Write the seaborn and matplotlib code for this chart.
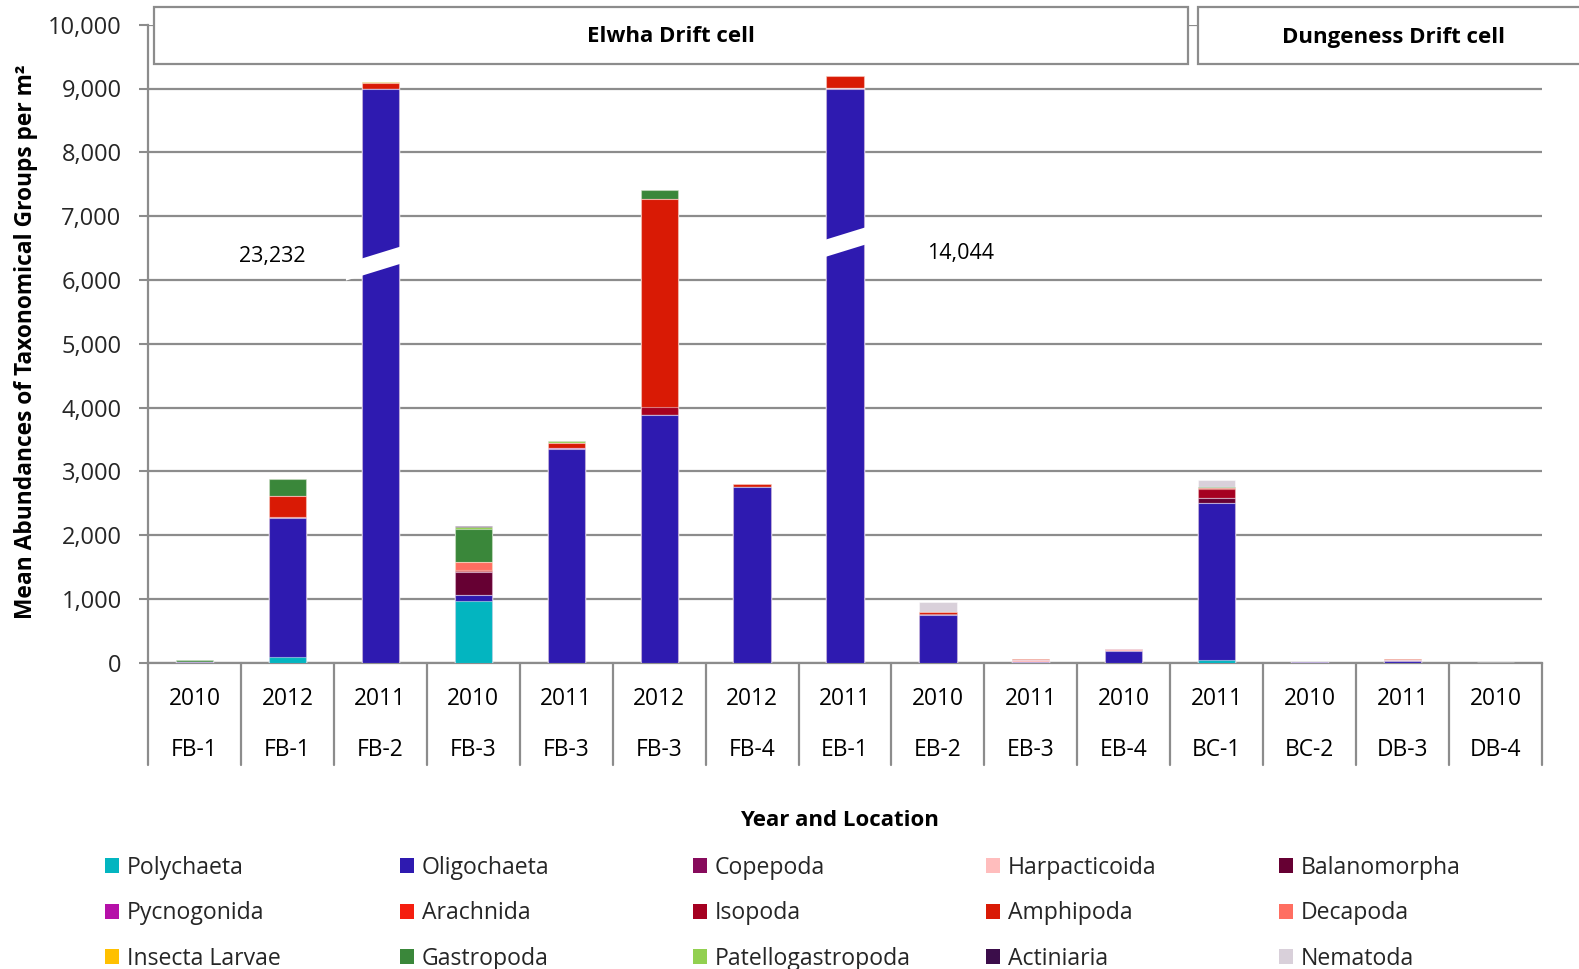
import numpy as np
import pandas as pd
import matplotlib
matplotlib.use("Agg")
import matplotlib.pyplot as plt
import matplotlib.transforms as mtransforms
from matplotlib.patches import Patch, Rectangle, Polygon
import seaborn as sns

# ---------------------------------------------------------------- data
years = ["2010", "2012", "2011", "2010", "2011", "2012", "2012", "2011",
         "2010", "2011", "2010", "2011", "2010", "2011", "2010"]
locations = ["FB-1", "FB-1", "FB-2", "FB-3", "FB-3", "FB-3", "FB-4", "EB-1",
             "EB-2", "EB-3", "EB-4", "BC-1", "BC-2", "DB-3", "DB-4"]

taxa = ["Polychaeta", "Oligochaeta", "Copepoda", "Harpacticoida", "Balanomorpha",
        "Pycnogonida", "Arachnida", "Isopoda", "Amphipoda", "Decapoda",
        "Insecta Larvae", "Gastropoda", "Patellogastropoda", "Actiniaria", "Nematoda"]

polychaeta        = [0, 90, 0, 970, 0, 0, 0, 0, 0, 0, 0, 40, 0, 0, 0]
oligochaeta       = [10, 2180, 23137, 85, 3345, 3887, 2749, 13844, 752, 5, 183, 2468, 8, 22, 0]
copepoda          = [0, 0, 0, 0, 0, 0, 0, 0, 0, 0, 0, 0, 0, 0, 0]
harpacticoida     = [0, 0, 0, 0, 0, 0, 0, 10, 0, 30, 27, 0, 0, 20, 0]
balanomorpha      = [0, 0, 0, 365, 0, 0, 0, 0, 0, 0, 0, 69, 0, 0, 0]
pycnogonida       = [0, 0, 0, 0, 15, 0, 0, 0, 0, 0, 0, 0, 0, 0, 0]
arachnida         = [0, 20, 0, 0, 0, 0, 0, 0, 0, 0, 0, 0, 0, 0, 0]
isopoda           = [0, 0, 0, 15, 0, 125, 0, 0, 8, 0, 0, 141, 0, 0, 0]
amphipoda         = [0, 330, 80, 15, 80, 3255, 52, 190, 35, 20, 0, 25, 0, 18, 0]
decapoda          = [0, 0, 0, 125, 0, 0, 0, 0, 0, 0, 0, 0, 0, 0, 0]
insecta_larvae    = [0, 0, 15, 0, 8, 0, 0, 0, 0, 0, 0, 0, 0, 0, 0]
gastropoda        = [30, 265, 0, 520, 0, 141, 0, 0, 0, 0, 0, 11, 0, 0, 0]
patellogastropoda = [0, 0, 0, 26, 20, 0, 0, 0, 0, 0, 0, 0, 0, 0, 0]
actiniaria        = [0, 0, 0, 20, 0, 0, 0, 0, 0, 0, 0, 0, 0, 0, 0]
nematoda          = [0, 0, 0, 0, 0, 0, 0, 0, 156, 0, 0, 110, 0, 0, 0]

series = [polychaeta, oligochaeta, copepoda, harpacticoida, balanomorpha,
          pycnogonida, arachnida, isopoda, amphipoda, decapoda,
          insecta_larvae, gastropoda, patellogastropoda, actiniaria, nematoda]

colors = ["#03B5C0", "#2E1AB0", "#870B5C", "#FFBDBD", "#660033",
          "#B510A8", "#F51E0F", "#A50021", "#D91A05", "#FF6E61",
          "#FFC000", "#3A873A", "#92D050", "#3B0D4A", "#D9D0DA"]

drift_cells = ["Elwha Drift cell", "Dungeness Drift cell"]

# ---------------------------------------------------------------- layout
W, H = 1579, 969
Y_MAX = 10000
SHOWN_OLIGO = 9000            # height drawn for the dominant segment of off-scale bars
BREAK_Y = {2: 6290, 7: 6590}  # where the axis-break cut crosses off-scale bars
TOTAL_LABEL_POS = {2: (-1.165, 6360), 7: (1.24, 6420)}
BAR_W = 0.4
GRID = "#8C8C8C"
FS_TICK = 17
FS_CAT = 16.4
FS_BOLD = 16

sns.set_theme(style="white")
plt.rcParams["font.family"] = ["Open Sans", "DejaVu Sans"]

fig = plt.figure(figsize=(W / 100, H / 100), dpi=100)
ax = fig.add_axes([148 / W, 1 - 662.7 / H, (1542 - 148) / W, (662.7 - 24.7) / H])

n = len(years)
keys = [f"{y} {l}" for y, l in zip(years, locations)]
values = np.array(series, dtype=float)           # taxa x sites
totals = values.sum(axis=0)

# off-scale bars: keep the real total but draw the dominant segment capped
shown = values.copy()
off_scale = [i for i in range(n) if totals[i] > Y_MAX]
for i in off_scale:
    shown[1, i] = SHOWN_OLIGO
cum = np.cumsum(shown, axis=0)

# stacked bars: draw cumulative heights from top layer down
for k in range(len(taxa) - 1, -1, -1):
    df = pd.DataFrame({"site": keys, "value": cum[k]})
    sns.barplot(data=df, x="site", y="value", order=keys, color=colors[k],
                saturation=1, width=BAR_W, errorbar=None, ax=ax,
                edgecolor=(1, 1, 1, 0.45), linewidth=0.8, zorder=3)

# axis-break cut across off-scale bars, with the true totals
slope = 450.0
half = 135.0
for i in off_scale:
    yb = BREAK_Y[i]
    x0, x1 = i - 0.37, i + 0.27
    poly = Polygon([(x0, yb - half + slope * (x0 - i)), (x1, yb - half + slope * (x1 - i)),
                    (x1, yb + half + slope * (x1 - i)), (x0, yb + half + slope * (x0 - i))],
                   closed=True, facecolor="white", edgecolor="none", zorder=4)
    ax.add_patch(poly)
    dx, ty = TOTAL_LABEL_POS[i]
    ax.text(i + dx, ty, f"{int(round(totals[i])):,}", ha="center", va="center",
            fontsize=15.5, color="black", zorder=5)

ax.set_xlim(-0.5, n - 0.5)
ax.set_ylim(0, Y_MAX)
ax.set_yticks(np.arange(0, Y_MAX + 1, 1000))
ax.set_yticklabels([f"{v:,}" for v in range(0, Y_MAX + 1, 1000)], fontsize=FS_TICK)
ax.set_xticks(range(n))
ax.set_xticklabels([""] * n)
ax.tick_params(axis="x", length=0)
ax.tick_params(axis="y", length=6.5, width=1.5, color=GRID, pad=12.5, left=True)
ax.yaxis.grid(True, color=GRID, linewidth=1.6)
ax.set_axisbelow(True)
for s in ["top", "right"]:
    ax.spines[s].set_visible(False)
for s in ["left", "bottom"]:
    ax.spines[s].set_color(GRID)
    ax.spines[s].set_linewidth(1.6)
ax.set_xlabel("")
ax.set_ylabel("")

# two-row category table under the axis
trans = mtransforms.blended_transform_factory(ax.transData, ax.transAxes)
table_bottom = -(765 - 662.7) / 638
for b in range(n + 1):
    ax.plot([b - 0.5, b - 0.5], [0, table_bottom], transform=trans, color=GRID,
            lw=1.6, clip_on=False, zorder=2)
for i in range(n):
    ax.text(i, -(699 - 662.7) / 638, years[i], transform=trans, ha="center",
            va="center", fontsize=FS_CAT, color="black")
    ax.text(i, -(750 - 662.7) / 638, locations[i], transform=trans, ha="center",
            va="center", fontsize=FS_CAT, color="black")

fig.text(839 / W, 1 - 821 / H, "Year and Location", ha="center", va="center",
         fontsize=FS_BOLD, fontweight="bold", color="black")
fig.text(26 / W, 1 - 342 / H, "Mean Abundances of Taxonomical Groups per m²",
         ha="center", va="center", rotation=90, fontsize=16.4,
         fontweight="bold", color="black")

# drift-cell header boxes
boxes = [(154, 1188), (1198, 1600)]
for (bx0, bx1), name in zip(boxes, drift_cells):
    fig.patches.append(Rectangle((bx0 / W, 1 - 64 / H), (bx1 - bx0) / W, (64 - 7.5) / H,
                                 transform=fig.transFigure, facecolor="white",
                                 edgecolor=GRID, linewidth=1.6, zorder=10))
    cx = (bx0 + bx1) / 2 if bx1 < W else 1393
    fig.text(cx / W, 1 - 37 / H, name, ha="center", va="center", fontsize=FS_BOLD,
             fontweight="bold", color="black", zorder=11)

# legend: five columns of three rows, filled row by row
col_x = [105, 400, 693, 986, 1279]
for c in range(5):
    idx = [r * 5 + c for r in range(3)]
    handles = [Patch(facecolor=colors[j], edgecolor="none") for j in idx]
    fig.legend(handles, [taxa[j] for j in idx], loc="upper left",
               bbox_to_anchor=(col_x[c] / W, 1 - 856 / H), frameon=False,
               fontsize=16.6, handlelength=0.62, handleheight=0.62,
               handletextpad=0.33, labelspacing=0.93, borderpad=0,
               borderaxespad=0)

fig.savefig("out.png", dpi=100)
